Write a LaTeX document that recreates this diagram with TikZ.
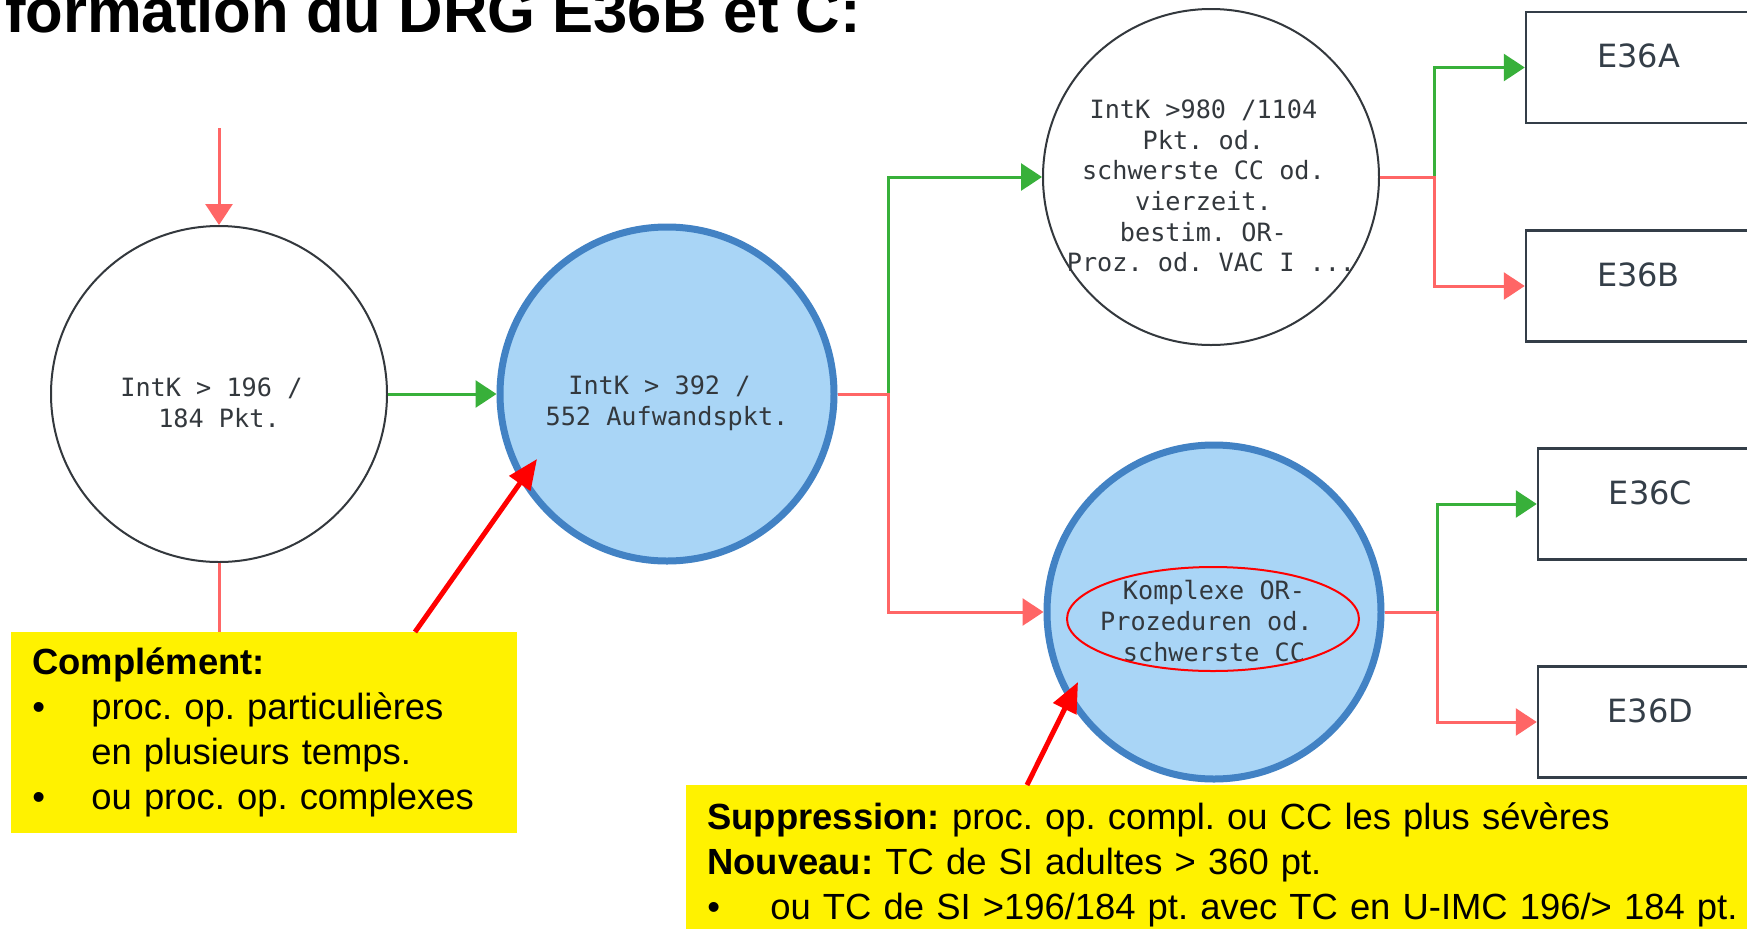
\documentclass[tikz,border=0pt]{standalone}
\usepackage{fontspec}
\setmainfont{Liberation Sans}
\newfontfamily\monofont{DejaVu Sans Mono}
\newfontfamily\drgfont{DejaVu Sans}
\usetikzlibrary{calc}
\usetikzlibrary{arrows.meta, shapes.geometric}

\definecolor{yesgreen}{HTML}{38B03A}
\definecolor{nored}{HTML}{FF6666}
\definecolor{activefill}{HTML}{A9D5F6}
\definecolor{activeline}{HTML}{4282C4}
\definecolor{boxgray}{HTML}{343E48}
\definecolor{textgray}{HTML}{33383D}

\newcommand{\trail}{\hphantom{0}}
\newcommand{\bul}[1]{\makebox[#1][l]{\textbullet}}

\begin{document}
\frenchspacing
\begin{tikzpicture}[x=0.5pt,y=-0.5pt,>={Triangle[length=10.5pt,width=13.5pt]},
	caption/.style={
		align=center, text=textgray, inner sep=0pt, yshift=-4.5pt,
		font=\monofont\fontsize{12.6pt}{15.35pt}\selectfont,
	},
	test/.style={
		circle, draw=textgray, line width=1pt, % decision circles
		minimum size=168pt, inner sep=0pt,
		label={[caption]center:{#1}},
	},
	active/.style={test={#1}, fill=activefill, draw=activeline,
		line width=3.5pt, minimum size=167pt},
	drg/.style={draw=boxgray, line width=1.25pt, text=boxgray,
		minimum width=112.5pt, minimum height=55.5pt,
		text height=12pt, text depth=12pt,
		font=\drgfont\fontsize{16pt}{19pt}\selectfont},
	yes/.style={draw=yesgreen, line width=1.5pt},
	no/.style={draw=nored, line width=1.5pt},
	note/.style={fill=yellow, anchor=north west, inner xsep=10.5pt,
		align=left, font=\fontsize{18.2pt}{22.5pt}\selectfont},
	hint/.style={draw=red, line width=2.5pt,
		-{Triangle[length=15pt,width=12.5pt]}},
]
	\path[use as bounding box, fill=white] (0,0) rectangle (1747,928);
	\node[anchor=base west, font=\bfseries\fontsize{30.8pt}{36pt}\selectfont]
		(title) at (-2,32) {formation du DRG E36B et C:};

	\node[test={IntK > 196 /\trail\\184 Pkt.}] (intk1) at (219,394) {};
	\node[active={IntK > 392 /\trail\\552 Aufwandspkt.}] (intk2) at (667,394) {};
	\node[test={IntK >980 /1104\trail\\Pkt. od.\trail\\
		schwerste CC od.\trail\\vierzeit.\trail\\bestim. OR-\trail\\
		Proz. od. VAC I ...}] (intk3) at (1211,177) {};
	\node[active={Komplexe OR-\\Prozeduren od.\trail\\schwerste CC}]
		(komplexe) at (1214,612) {};
	\node[ellipse, draw=red, line width=1pt, minimum width=146pt,
		minimum height=52pt] (mark) at (1213,619) {};

	\node[drg] (e36a) at (1638.5,67.5) {E36A};
	\node[drg] (e36b) at (1638.5,286) {E36B};
	\node[drg] (e36c) at (1650.5,504) {E36C};
	\node[drg] (e36d) at (1650.5,722) {E36D};

	\coordinate (entry) at (219,128);
	\coordinate (j1) at (888,394);
	\coordinate (j2) at (1434,177);
	\coordinate (j3) at (1437,612);

	\draw[no,->] (entry) -- (intk1.north);
	\draw[yes,->] (intk1) -- (intk2);
	\foreach \from/\up/\down/\j in {intk2/intk3/komplexe/j1,
		intk3/e36a/e36b/j2, komplexe/e36c/e36d/j3}{
		\draw[yes,->] (\j) |- (\up.west);
		\draw[no,->] (\from.east) -- (\j) |- (\down.west);
	}

	\node[note, minimum height=100.5pt, text width=232pt] (compl) at (11,632)
		{\textbf{Complément:}\\\bul{29.5pt}proc. op. particulières\\
		\hspace*{29.5pt}en plusieurs temps.\\\bul{29.5pt}ou proc. op. complexes};
	\node[note, minimum height=79pt, text width=529pt] (suppr) at (686,785)
		{\textbf{Suppression:} proc. op. compl. ou CC les plus sévères\\
		\textbf{Nouveau:} TC de SI adultes > 360 pt.\\
		\bul{31.5pt}ou TC de SI >196/184 pt. avec TC en U-IMC 196/> 184 pt.};

	\draw[no] (intk1.south) -- (intk1.south |- compl.north);
	\draw[hint] ($(compl.north west)+(404,0)$) -- ($(intk2)+(-130,65)$);
	\draw[hint] ($(suppr.north west)+(341,0)$) -- ($(komplexe)+(-136,70)$);
\end{tikzpicture}
\end{document}
